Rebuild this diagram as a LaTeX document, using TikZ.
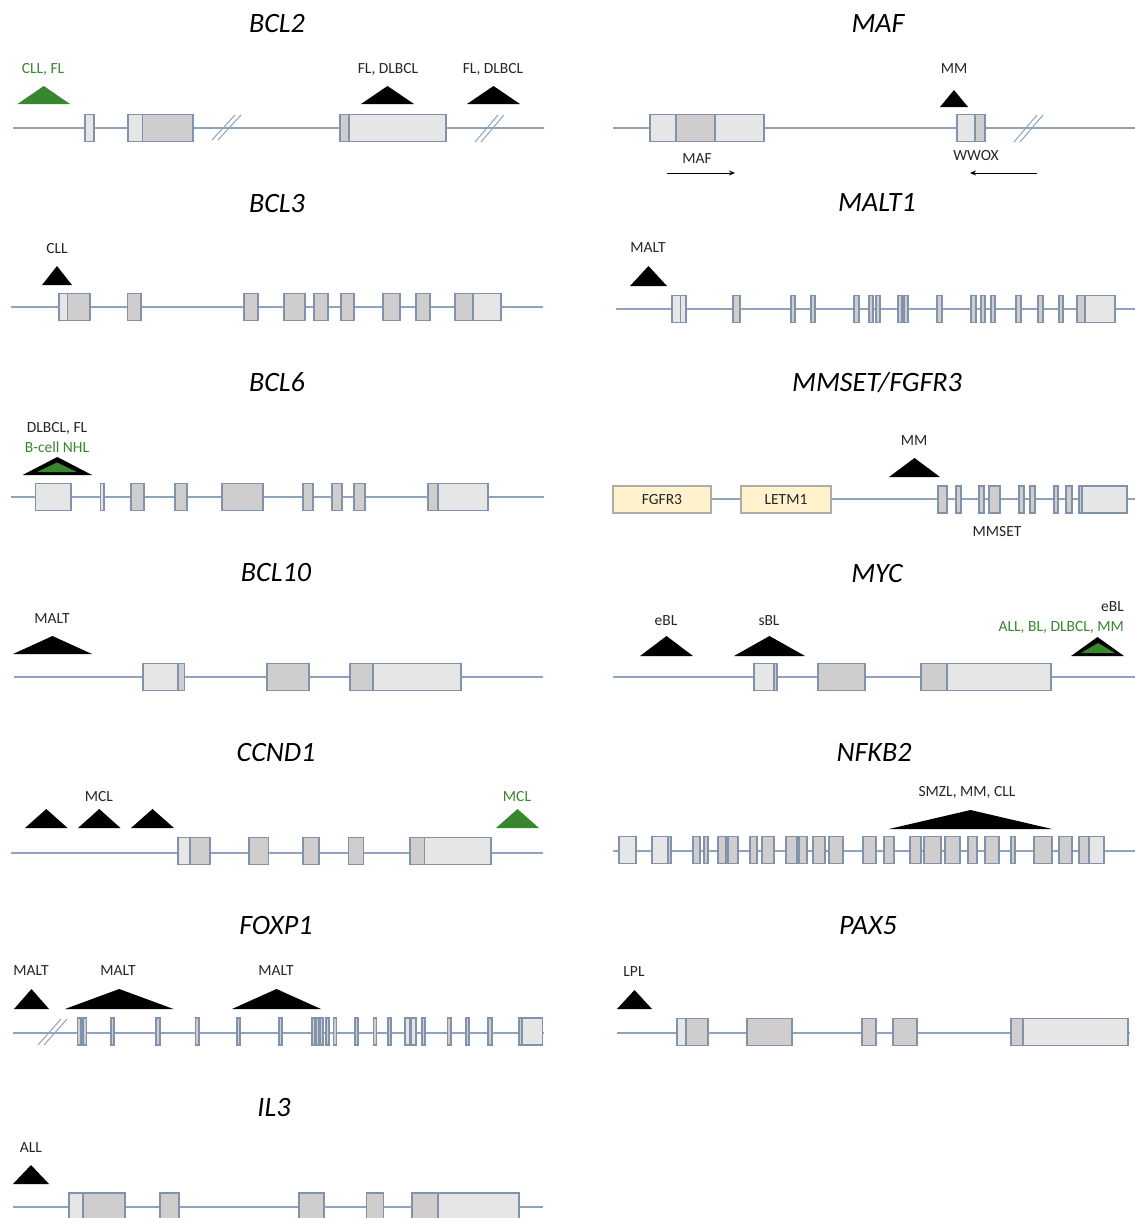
\documentclass[tikz,border=0pt]{standalone}
\usepackage{fontspec}
\setmainfont{Carlito}
\usetikzlibrary{arrows.meta}
\definecolor{bb}{RGB}{143,163,190}
\definecolor{eb}{RGB}{128,146,172}
\definecolor{lf}{RGB}{231,230,230}
\definecolor{df}{RGB}{208,205,206}
\definecolor{gr}{RGB}{56,135,46}
\definecolor{yf}{RGB}{255,242,204}
\definecolor{tx}{RGB}{38,38,38}
\tikzset{
  backbone/.style={draw=bb, line width=1.4},
  brkline/.style={draw=bb, line width=1},
  lx/.style={draw=eb, fill=lf, line width=1.1},
  dx/.style={draw=eb, fill=df, line width=1.1},
  yx/.style={draw=gray!65, fill=yf, line width=1.1, minimum height=27, inner sep=0,
             font=\fontsize{15.5}{18}\selectfont, text=tx},
  lbl/.style={font=\fontsize{15.5}{18}\selectfont, text=tx, inner sep=0, anchor=base},
  glbl/.style={lbl, text=gr},
  ttl/.style={font=\fontsize{28}{32}\selectfont\itshape, text=black, inner sep=0, anchor=base},
  btri/.style={fill=black},
  gtri/.style={fill=gr},
  tarrow/.style={draw=black, line width=1, -{Stealth[length=6,width=5]}}
}
% exon box: [style]{x1}{x2}{y}
\newcommand\ex[4][dx]{\draw[#1] (#2,{#4-13.5}) rectangle (#3,{#4+13.5});}
% two-part exon: {x1}{xsplit}{x2}{y}{left style}{right style}
\newcommand\exs[6]{\draw[#5] (#1,{#4-13.5}) rectangle (#2,{#4+13.5});
  \draw[#6] (#2,{#4-13.5}) rectangle (#3,{#4+13.5});}
% breakpoint triangle: {xleft}{xright}{yapex}{ybase}{style}
\newcommand\tri[5]{\fill[#5] (#1,#4) -- ({(#1+#2)/2},#3) -- (#2,#4) -- cycle;}
% axis break mark: {xleft}{ytop}{ybottom}
\newcommand\brk[3]{\draw[brkline] (#1,#3) -- ({#1+23},#2);
  \draw[brkline] ({#1+6},#3) -- ({#1+29},#2);}
\begin{document}
\begin{tikzpicture}[x=1pt,y=-1pt]
\useasboundingbox (0,0) rectangle (1135,1218);
\fill[white] (0,0) rectangle (1135,1218);
\clip (0,0) rectangle (1135,1218);

% ---------------- BCL2 ----------------
\node[ttl] (t-bcl2) at (277,32) {BCL2};
\coordinate (bcl2-a) at (13,128); \coordinate (bcl2-b) at (544,128);
\draw[backbone] (bcl2-a) -- (bcl2-b);
\brk{212}{115}{140} \brk{475}{115}{142}
\ex[lx]{85}{94}{128}
\exs{128}{142.5}{193}{128}{lx}{dx}
\exs{340}{349}{446}{128}{dx}{lx}
\tri{17.5}{70}{86}{104}{gtri}
\tri{361}{414}{86}{104}{btri}
\tri{467}{520}{86}{104}{btri}
\node[glbl] (l-bcl2-1) at (43,73) {CLL, FL};
\node[lbl] (l-bcl2-2) at (388,73) {FL, DLBCL};
\node[lbl] (l-bcl2-3) at (493,73) {FL, DLBCL};

% ---------------- MAF ----------------
\node[ttl] (t-maf) at (878,32) {MAF};
\coordinate (maf-a) at (613,128); \coordinate (maf-b) at (1135,128);
\draw[backbone] (maf-a) -- (maf-b);
\ex[lx]{650}{676}{128} \ex[dx]{676}{715}{128} \ex[lx]{715}{764}{128}
\exs{957}{975}{985}{128}{lx}{dx}
\brk{1014}{115}{142}
\tri{940}{968}{90}{107}{btri}
\node[lbl] (l-maf-mm) at (954,73) {MM};
\node[lbl] (l-maf) at (697,163) {MAF};
\node[lbl] (l-wwox) at (976,160) {WWOX};
\coordinate (mafarr-a) at (667,173); \coordinate (mafarr-b) at (735,173);
\coordinate (wwarr-a) at (1037,173); \coordinate (wwarr-b) at (970,173);
\draw[tarrow] (mafarr-a) -- (mafarr-b);
\draw[tarrow] (wwarr-a) -- (wwarr-b);

% ---------------- BCL3 ----------------
\node[ttl] (t-bcl3) at (277,212) {BCL3};
\coordinate (bcl3-a) at (11,307); \coordinate (bcl3-b) at (543,307);
\draw[backbone] (bcl3-a) -- (bcl3-b);
\exs{59}{67.6}{90}{307}{lx}{dx}
\foreach \a/\b in {127.5/141, 244/258, 284/305, 314/328, 341/354, 383/400, 416/430}
  {\ex{\a}{\b}{307}}
\exs{455}{473}{501}{307}{dx}{lx}
\tri{42}{72}{266}{285}{btri}
\node[lbl] (l-bcl3) at (57,253) {CLL};

% ---------------- MALT1 ----------------
\node[ttl] (t-malt1) at (877,211) {MALT1};
\coordinate (malt1-a) at (616,309); \coordinate (malt1-b) at (1135,309);
\draw[backbone] (malt1-a) -- (malt1-b);
\exs{672}{680.5}{686}{309}{lx}{lx}
\foreach \a/\b in {733/740, 791/795, 811/815, 854/859, 869/873, 876/880, 898/902,
  904/908, 937/942, 971/976, 981/985, 991/995, 1016/1021, 1038/1043, 1059/1063}
  {\ex{\a}{\b}{309}}
\exs{1077}{1085}{1115}{309}{dx}{lx}
\tri{630}{667}{266}{286}{btri}
\node[lbl] (l-malt1) at (648,252) {MALT};

% ---------------- BCL6 ----------------
\node[ttl] (t-bcl6) at (277,391) {BCL6};
\coordinate (bcl6-a) at (11,497); \coordinate (bcl6-b) at (544,497);
\draw[backbone] (bcl6-a) -- (bcl6-b);
\ex[lx]{35.5}{71}{497}
\ex[lx]{100.5}{104}{497}
\foreach \a/\b in {131/144, 175/187, 222/263, 303/313, 332/342, 354/365}
  {\ex{\a}{\b}{497}}
\exs{428}{438}{488}{497}{dx}{lx}
\tri{22.6}{92}{457}{475}{btri}
\tri{37}{77}{462.5}{472}{gtri}
\node[lbl] (l-bcl6-1) at (57,432) {DLBCL, FL};
\node[glbl] (l-bcl6-2) at (57,452) {B-cell NHL};

% ---------------- MMSET/FGFR3 ----------------
\node[ttl] (t-mmset) at (877,391) {MMSET/FGFR3};
\coordinate (mmset-a) at (613,499); \coordinate (mmset-b) at (1135,499);
\draw[backbone] (mmset-a) -- (mmset-b);
\node[yx, minimum width=98] (fgfr3) at (662,499.5) {FGFR3};
\node[yx, minimum width=90] (letm1) at (786,499.5) {LETM1};
\foreach \a/\b in {938/947, 956/961, 979/984, 989/1000, 1019/1024, 1030/1035,
  1054/1058, 1066/1072}
  {\ex{\a}{\b}{499.5}}
\exs{1079}{1082}{1127}{499.5}{dx}{lx}
\tri{889}{940}{458}{477}{btri}
\node[lbl] (l-mmset-mm) at (914,445) {MM};
\node[lbl] (l-mmset) at (997,536) {MMSET};

% ---------------- BCL10 ----------------
\node[ttl] (t-bcl10) at (276,581) {BCL10};
\coordinate (bcl10-a) at (14,677); \coordinate (bcl10-b) at (543,677);
\draw[backbone] (bcl10-a) -- (bcl10-b);
\exs{143}{178}{184.5}{677}{lx}{dx}
\ex{267}{309}{677}
\exs{350}{373}{461}{677}{dx}{lx}
\tri{13}{92}{636}{654}{btri}
\node[lbl] (l-bcl10) at (52,623) {MALT};

% ---------------- MYC ----------------
\node[ttl] (t-myc) at (877,582) {MYC};
\coordinate (myc-a) at (613,677); \coordinate (myc-b) at (1135,677);
\draw[backbone] (myc-a) -- (myc-b);
\exs{754}{774}{777}{677}{lx}{dx}
\ex{818}{865}{677}
\exs{921}{947}{1051}{677}{dx}{lx}
\tri{640}{693}{636}{656}{btri}
\tri{734}{805}{636}{656}{btri}
\tri{1071}{1124}{637}{656}{btri}
\tri{1081}{1115}{643}{653}{gtri}
\node[lbl] (l-myc-1) at (666,625) {eBL};
\node[lbl] (l-myc-2) at (769,625) {sBL};
\node[lbl, anchor=base east] (l-myc-3) at (1124,611) {eBL};
\node[glbl, anchor=base east] (l-myc-4) at (1124,631) {ALL, BL, DLBCL, MM};

% ---------------- CCND1 ----------------
\node[ttl] (t-ccnd1) at (276,761) {CCND1};
\coordinate (ccnd1-a) at (11,853); \coordinate (ccnd1-b) at (543,853);
\draw[backbone] (ccnd1-a) -- (ccnd1-b);
\exs{178}{190}{210}{851}{lx}{dx}
\foreach \a/\b in {249/268.5, 303/319, 348.5/363.5}
  {\ex{\a}{\b}{851}}
\exs{410}{424.5}{491}{851}{dx}{lx}
\tri{25}{67.6}{809}{828}{btri}
\tri{78}{120.5}{809}{828}{btri}
\tri{131}{174}{809}{828}{btri}
\tri{496}{539}{809}{828}{gtri}
\node[lbl] (l-ccnd1-1) at (99,801) {MCL};
\node[glbl] (l-ccnd1-2) at (517,801) {MCL};

% ---------------- NFKB2 ----------------
\node[ttl] (t-nfkb2) at (874,761) {NFKB2};
\coordinate (nfkb2-a) at (613,851); \coordinate (nfkb2-b) at (1135,851);
\draw[backbone] (nfkb2-a) -- (nfkb2-b);
\ex[lx]{619}{636}{850}
\exs{652}{668}{671}{850}{lx}{dx}
\foreach \a/\b in {693/700, 704/708, 718/726, 728/738, 750/757, 762/774, 786/797,
  799/807, 813/825, 829/843, 863/876, 884/894, 910/921, 924/941, 945/960, 968/977,
  985/999, 1011/1015, 1034/1052, 1059/1072}
  {\ex{\a}{\b}{850}}
\exs{1079}{1089}{1104}{850}{dx}{lx}
\tri{889}{1052}{810}{829}{btri}
\node[lbl] (l-nfkb2) at (967,796) {SMZL, MM, CLL};

% ---------------- FOXP1 ----------------
\node[ttl] (t-foxp1) at (276,934) {FOXP1};
\coordinate (foxp1-a) at (13,1033); \coordinate (foxp1-b) at (544,1033);
\draw[backbone] (foxp1-a) -- (foxp1-b);
\brk{38}{1019}{1045}
\foreach \a/\b in {77.5/81, 83/86.6, 111/114, 156/160, 195.5/199, 237/240, 279/282,
  312/315, 316.5/319, 320/323, 326/329, 333.5/336.5, 355/358, 373.5/376.7, 388/391,
  422/425, 447.6/451, 466/469, 488/492}
  {\ex{\a}{\b}{1031.5}}
\ex[lx]{405}{410}{1031.5} \ex[lx]{411}{416}{1031.5}
\exs{519}{522}{542.6}{1031.5}{dx}{lx}
\tri{14}{49}{989}{1009}{btri}
\tri{65}{173.5}{989}{1009}{btri}
\tri{232}{321}{989}{1009}{btri}
\node[lbl] (l-foxp1-1) at (31,975) {MALT};
\node[lbl] (l-foxp1-2) at (118,975) {MALT};
\node[lbl] (l-foxp1-3) at (276,975) {MALT};

% ---------------- PAX5 ----------------
\node[ttl] (t-pax5) at (868,934) {PAX5};
\coordinate (pax5-a) at (617,1033); \coordinate (pax5-b) at (1130,1033);
\draw[backbone] (pax5-a) -- (pax5-b);
\exs{677}{686}{708}{1032}{lx}{dx}
\foreach \a/\b in {747/792, 862/876, 893/917}
  {\ex{\a}{\b}{1032}}
\exs{1011}{1023}{1128}{1032}{dx}{lx}
\tri{617}{652}{990}{1009}{btri}
\node[lbl] (l-pax5) at (634,976) {LPL};

% ---------------- IL3 ----------------
\node[ttl] (t-il3) at (274,1116) {IL3};
\coordinate (il3-a) at (13,1207); \coordinate (il3-b) at (543,1207);
\draw[backbone] (il3-a) -- (il3-b);
\exs{69}{83}{125}{1206.5}{lx}{dx}
\foreach \a/\b in {160/179, 299/324, 366.5/383.6}
  {\ex{\a}{\b}{1206.5}}
\exs{412}{438}{519}{1206.5}{dx}{lx}
\tri{13}{49}{1165}{1184}{btri}
\node[lbl] (l-il3) at (31,1152) {ALL};
\end{tikzpicture}
\end{document}
